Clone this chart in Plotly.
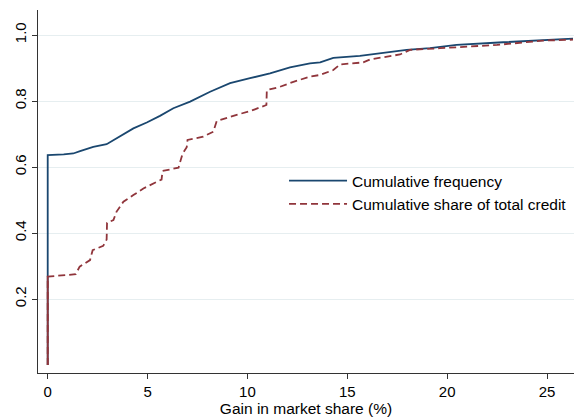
import plotly.graph_objects as go

# Cumulative frequency (blue, solid)
freq_x = [0, 0, 0.8, 1.28, 1.62, 2.28, 2.95, 3.62, 4.29, 4.96, 5.62, 6.29, 7.13, 8.13, 9.13,
          10.13, 11.13, 12.13, 13.13, 13.64, 14.3, 15.63, 16.64, 17.97, 19.14, 20.47, 22.8, 24.8, 26.3]
freq_y = [0, 0.636, 0.638, 0.641, 0.648, 0.661, 0.669, 0.692, 0.717, 0.735, 0.755, 0.778, 0.798, 0.828, 0.854,
          0.869, 0.884, 0.902, 0.914, 0.917, 0.931, 0.937, 0.945, 0.955, 0.960, 0.970, 0.978, 0.985, 0.989]

# Cumulative share of total credit (red, dashed)
credit_x = [0, 0, 1.4, 1.6, 2.12, 2.25, 2.78, 2.95, 2.97, 3.29, 3.45, 3.79, 4.29, 4.79, 5.46, 5.7, 5.75,
            6.55, 6.75, 6.96, 7.0, 7.79, 8.29, 8.46, 9.46, 10.21, 10.95, 10.97, 11.63, 12.3, 13.13, 13.64,
            14.3, 14.64, 15.8, 16.14, 17.64, 18.14, 19.64, 22.5, 24.8, 26.3]
credit_y = [0, 0.268, 0.275, 0.298, 0.318, 0.348, 0.361, 0.38, 0.431, 0.439, 0.465, 0.495, 0.515, 0.535, 0.555,
            0.562, 0.588, 0.598, 0.64, 0.66, 0.682, 0.692, 0.707, 0.739, 0.758, 0.771, 0.788, 0.833, 0.843,
            0.858, 0.874, 0.879, 0.894, 0.911, 0.917, 0.926, 0.941, 0.955, 0.960, 0.970, 0.983, 0.986]

x_ticks = [0, 5, 10, 15, 20, 25]
y_ticks = [0.2, 0.4, 0.6, 0.8, 1.0]
y_tick_labels = ["0.2", "0.4", "0.6", "0.8", "1.0"]

BLUE = "#1a476f"
RED = "#90353b"
FONT = "Arial, Liberation Sans, sans-serif"

fig = go.Figure()
fig.add_trace(go.Scatter(x=freq_x, y=freq_y, mode="lines", name="Cumulative frequency",
                         legendgroup="g", line=dict(color=BLUE, width=1.8)))
fig.add_trace(go.Scatter(x=credit_x, y=credit_y, mode="lines", name="Cumulative share of total credit",
                         legendgroup="g", line=dict(color=RED, width=1.8, dash="7px,4px")))
# solid first (vertical) segment of the credit curve
fig.add_trace(go.Scatter(x=credit_x[:2], y=credit_y[:2], mode="lines", showlegend=False,
                         legendgroup="g", line=dict(color=RED, width=1.8)))

fig.update_layout(
    width=574, height=418,
    margin=dict(l=38, r=0, t=10, b=45),
    paper_bgcolor="white", plot_bgcolor="white",
    font=dict(family=FONT, size=15, color="black"),
    showlegend=True,
    legend=dict(x=0.459, y=0.5755, xanchor="left", yanchor="top",
                bgcolor="rgba(0,0,0,0)", font=dict(size=15.5), itemwidth=58,
                tracegroupgap=0, groupclick="toggleitem"),
    xaxis=dict(range=[-0.486, 26.35], tickmode="array", tickvals=x_ticks,
               ticks="outside", ticklen=5, tickcolor="#333333", tickwidth=1,
               showline=True, linecolor="#333333", linewidth=1.2,
               showgrid=False, zeroline=False,
               title=dict(text="Gain in market share (%)", font=dict(size=15.5), standoff=1)),
    yaxis=dict(range=[-0.0242, 1.0758], tickmode="array", tickvals=y_ticks, ticktext=y_tick_labels,
               tickangle=-90, ticks="outside", ticklen=5, tickcolor="#333333", tickwidth=1,
               showline=True, linecolor="#333333", linewidth=1.2,
               showgrid=True, gridcolor="#e6eef0", gridwidth=1, zeroline=False),
)

fig.write_html("out.html")
